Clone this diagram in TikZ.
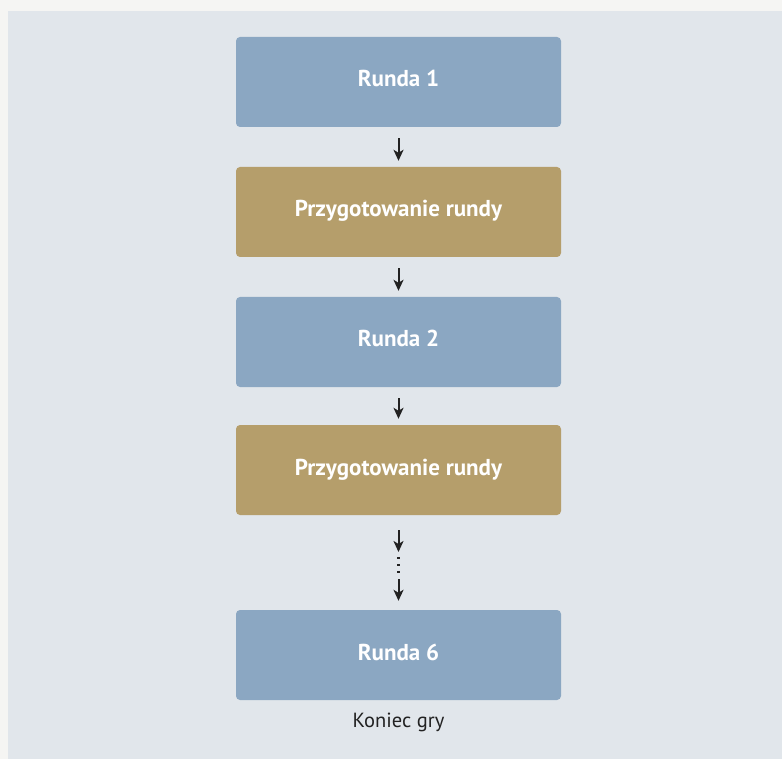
\documentclass[tikz,border=0pt]{standalone}
\usepackage{fontspec}
\setmainfont{PT Sans}
\usetikzlibrary{arrows.meta}
\definecolor{outerbg}{HTML}{F5F5F3}
\definecolor{panelbg}{HTML}{E1E6EB}
\definecolor{roundblue}{HTML}{8BA7C2}
\definecolor{prepgold}{HTML}{B59E6B}
\definecolor{arrowdark}{HTML}{222222}
\def\midx{398.5}

\begin{document}
\begin{tikzpicture}[x=1pt, y=-1pt,
    box/.style={rectangle, rounded corners=4pt, minimum width=325pt, minimum height=90pt,
        text height=13pt, text depth=3pt,
        text=white, font=\bfseries\fontsize{23}{27}\selectfont},
    roundbox/.style={box, fill=roundblue},
    prepbox/.style={box, fill=prepgold},
    arr/.style={draw=arrowdark, line width=2pt, -{Stealth[length=11pt, width=10pt, inset=3pt]},
        shorten <=11pt, shorten >=6pt}
]
            \useasboundingbox (0,0) rectangle (782,759);
            \fill[outerbg] (0,0) rectangle (782,759);
            \fill[panelbg] (8,11) rectangle (782,759);

            \node[roundbox] (round1) at (\midx, 82) {Runda 1};
            \node[prepbox] (prep1) at (\midx, 212) {Przygotowanie rundy};
            \node[roundbox] (round2) at (\midx, 342) {Runda 2};
            \node[prepbox] (prep2) at (\midx, 470) {Przygotowanie rundy};
            \node[roundbox] (round6) at (\midx, 655) {Runda 6};
            \node[text=arrowdark, font=\fontsize{20.5}{24}\selectfont] (gameend) at (\midx, 722) {Koniec gry};

            \coordinate (gaptop) at (\midx, 552);
            \coordinate (gapbot) at (\midx, 578);

            \draw[arr] (round1) -- (prep1);
            \draw[arr] (prep1) -- (round2);
            \draw[arr] (round2) -- (prep2);
            \draw[arr, shorten <=15pt, shorten >=0pt] (prep2) -- (gaptop);
            \draw[arrowdark, line width=2.5pt, dash pattern=on 2.5pt off 4.5pt,
                shorten <=4.75pt, shorten >=4.75pt] (gaptop) -- (gapbot);
            \draw[arr, shorten <=1pt, shorten >=9pt] (gapbot) -- (round6);
\end{tikzpicture}
\end{document}
